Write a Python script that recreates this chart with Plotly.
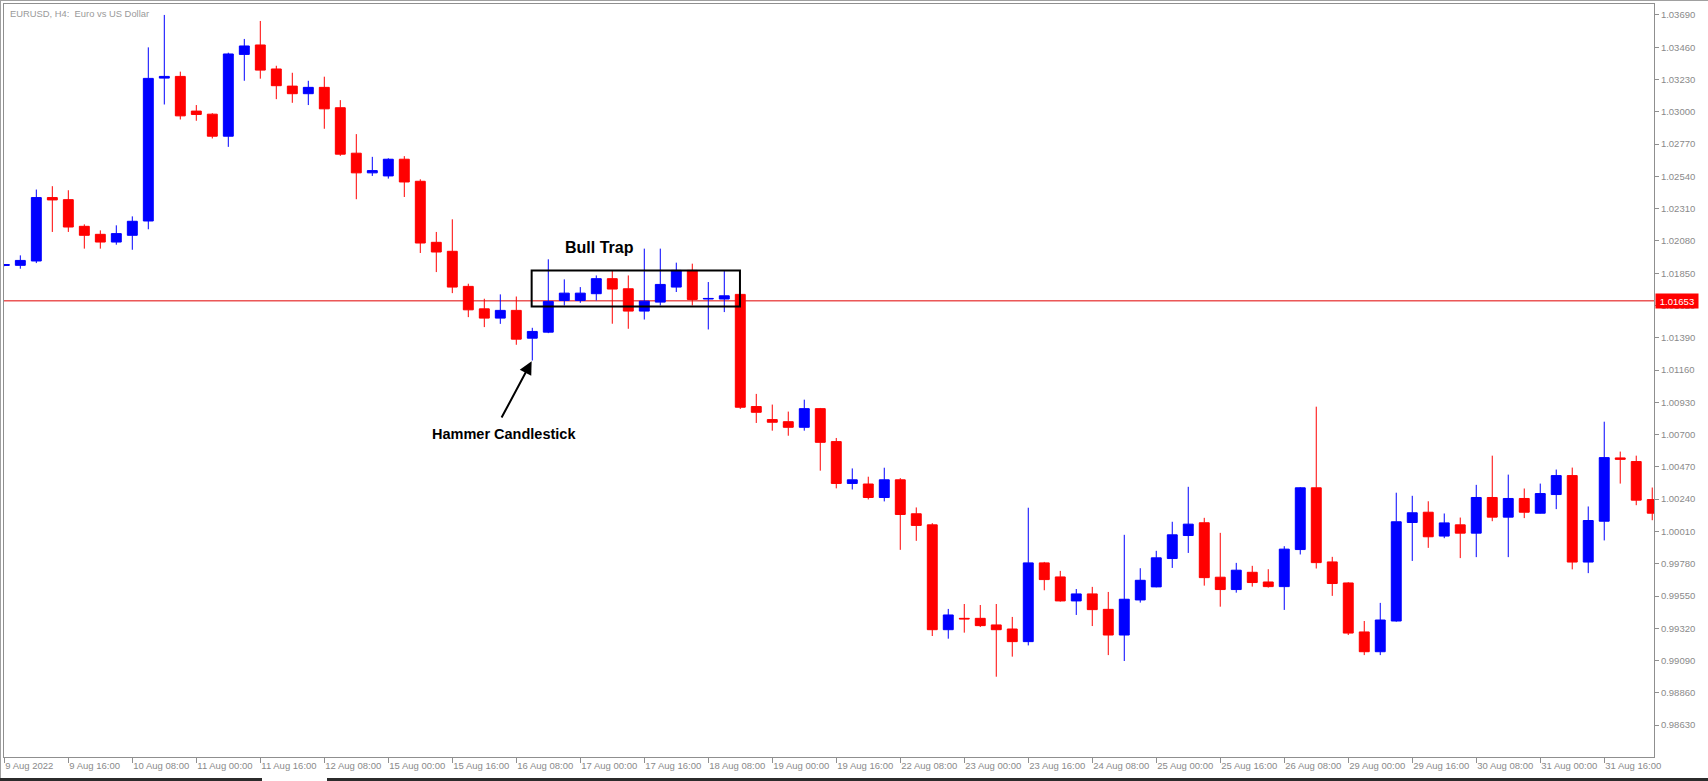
import plotly.graph_objects as go

# ---------------- data (EURUSD H4) ----------------
bar_open = [
    1.01905, 1.01906, 1.01937, 1.02389, 1.02374, 1.02184, 1.02127, 1.02072, 1.02120, 1.02222,
    1.03240, 1.03252, 1.03005, 1.02983, 1.02826, 1.03409, 1.03476, 1.03305, 1.03183, 1.03129,
    1.03174, 1.03029, 1.02705, 1.02565, 1.02543, 1.02662, 1.02505, 1.02070, 1.02006, 1.01756,
    1.01596, 1.01530, 1.01585, 1.01387, 1.01430, 1.01656, 1.01656, 1.01704, 1.01811, 1.01739,
    1.01580, 1.01644, 1.01751, 1.01870, 1.01666, 1.01666, 1.01699, 1.00900, 1.00807, 1.00792,
    1.00752, 1.00885, 1.00650, 1.00352, 1.00348, 1.00252, 1.00378, 1.00136, 1.00057, 0.99310,
    0.99391, 0.99391, 0.99344, 0.99315, 0.99225, 0.99786, 0.99686, 0.99515, 0.99565, 0.99455,
    0.99272, 0.99522, 0.99615, 0.99817, 0.99981, 1.00072, 0.99684, 0.99596, 0.99719, 0.99650,
    0.99617, 0.99881, 1.00321, 0.99793, 0.99643, 0.99294, 0.99153, 0.99372, 1.00074, 1.00147,
    0.99977, 1.00057, 0.99998, 1.00252, 1.00112, 1.00245, 1.00140, 1.00273, 1.00408, 0.99792,
    1.00083, 1.00534, 1.00508, 1.00237,
]
bar_high = [
    1.01915, 1.01977, 1.02446, 1.02470, 1.02441, 1.02198, 1.02155, 1.02191, 1.02255, 1.03459,
    1.03690, 1.03286, 1.03048, 1.02990, 1.03421, 1.03519, 1.03647, 1.03328, 1.03278, 1.03221,
    1.03250, 1.03083, 1.02841, 1.02679, 1.02669, 1.02684, 1.02519, 1.02144, 1.02234, 1.01775,
    1.01668, 1.01699, 1.01684, 1.01461, 1.01949, 1.01806, 1.01751, 1.01834, 1.01870, 1.01834,
    1.02025, 1.02025, 1.01925, 1.01918, 1.01787, 1.01870, 1.01704, 1.00990, 1.00914, 1.00864,
    1.00949, 1.00890, 1.00676, 1.00459, 1.00400, 1.00464, 1.00390, 1.00181, 1.00069, 0.99458,
    0.99493, 0.99486, 0.99493, 0.99401, 1.00179, 0.99793, 0.99729, 0.99600, 0.99615, 0.99579,
    0.99986, 0.99748, 0.99872, 1.00079, 1.00328, 1.00107, 1.00000, 0.99786, 0.99765, 0.99741,
    0.99905, 1.00326, 1.00899, 0.99829, 0.99648, 0.99372, 0.99501, 1.00286, 1.00264, 1.00225,
    1.00138, 1.00109, 1.00342, 1.00550, 1.00415, 1.00316, 1.00351, 1.00451, 1.00465, 1.00188,
    1.00792, 1.00579, 1.00550, 1.00323,
]
bar_low = [
    1.01900, 1.01882, 1.01922, 1.02144, 1.02144, 1.02025, 1.02025, 1.02053, 1.02017, 1.02163,
    1.03052, 1.02945, 1.02936, 1.02810, 1.02750, 1.03221, 1.03236, 1.03090, 1.03064, 1.03048,
    1.02879, 1.02686, 1.02377, 1.02543, 1.02524, 1.02393, 1.01994, 1.01858, 1.01708, 1.01537,
    1.01466, 1.01489, 1.01340, 1.01228, 1.01423, 1.01620, 1.01639, 1.01656, 1.01490, 1.01454,
    1.01520, 1.01620, 1.01716, 1.01620, 1.01449, 1.01573, 1.00883, 1.00783, 1.00728, 1.00692,
    1.00728, 1.00443, 1.00317, 1.00309, 1.00238, 1.00224, 0.99879, 0.99943, 0.99265, 0.99246,
    0.99289, 0.99329, 0.98975, 0.99118, 0.99198, 0.99591, 0.99510, 0.99415, 0.99336, 0.99129,
    0.99087, 0.99503, 0.99612, 0.99750, 0.99857, 0.99624, 0.99474, 0.99574, 0.99617, 0.99610,
    0.99451, 0.99846, 0.99746, 0.99551, 0.99272, 0.99129, 0.99129, 0.99367, 0.99800, 0.99893,
    0.99962, 0.99820, 0.99827, 1.00083, 0.99827, 1.00105, 1.00138, 1.00169, 0.99740, 0.99713,
    0.99946, 1.00351, 1.00197, 1.00090,
]
bar_close = [
    1.01912, 1.01941, 1.02389, 1.02372, 1.02179, 1.02120, 1.02072, 1.02132, 1.02220, 1.03238,
    1.03252, 1.02971, 1.02981, 1.02826, 1.03412, 1.03469, 1.03297, 1.03186, 1.03129, 1.03174,
    1.03021, 1.02698, 1.02565, 1.02581, 1.02662, 1.02500, 1.02065, 1.02001, 1.01751, 1.01589,
    1.01530, 1.01585, 1.01380, 1.01435, 1.01649, 1.01708, 1.01708, 1.01811, 1.01737, 1.01580,
    1.01651, 1.01770, 1.01870, 1.01663, 1.01670, 1.01689, 1.00895, 1.00859, 1.00788, 1.00752,
    1.00885, 1.00645, 1.00352, 1.00378, 1.00252, 1.00378, 1.00131, 1.00053, 0.99310, 0.99415,
    0.99387, 0.99339, 0.99310, 0.99225, 0.99786, 0.99667, 0.99515, 0.99565, 0.99453, 0.99272,
    0.99527, 0.99662, 0.99822, 0.99986, 1.00062, 0.99681, 0.99596, 0.99734, 0.99646, 0.99617,
    0.99884, 1.00321, 0.99788, 0.99639, 0.99286, 0.99153, 0.99379, 1.00079, 1.00143, 0.99972,
    1.00071, 0.99998, 1.00252, 1.00112, 1.00245, 1.00147, 1.00280, 1.00408, 0.99792, 1.00088,
    1.00536, 1.00524, 1.00233, 1.00140,
]
# bar number -1 is the partially visible bar at the left edge (9 Aug 00:00)
bar_index = list(range(-1, len(bar_open) - 1))

time_labels = [
    "9 Aug 2022", "9 Aug 16:00", "10 Aug 08:00", "11 Aug 00:00", "11 Aug 16:00",
    "12 Aug 08:00", "15 Aug 00:00", "15 Aug 16:00", "16 Aug 08:00", "17 Aug 00:00",
    "17 Aug 16:00", "18 Aug 08:00", "19 Aug 00:00", "19 Aug 16:00", "22 Aug 08:00",
    "23 Aug 00:00", "23 Aug 16:00", "24 Aug 08:00", "25 Aug 00:00", "25 Aug 16:00",
    "26 Aug 08:00", "29 Aug 00:00", "29 Aug 16:00", "30 Aug 08:00", "31 Aug 00:00",
    "31 Aug 16:00",
]
time_tick_bars = bar_index[::4][:len(time_labels)]

price_labels = [
    "0.98630", "0.98860", "0.99090", "0.99320", "0.99550", "0.99780", "1.00010",
    "1.00240", "1.00470", "1.00700", "1.00930", "1.01160", "1.01390", "1.01620",
    "1.01850", "1.02080", "1.02310", "1.02540", "1.02770", "1.03000", "1.03230",
    "1.03460", "1.03690",
]
price_ticks = [float(s) for s in price_labels]

current_price = 1.01653
symbol_title = "EURUSD, H4:\u00a0 Euro vs US Dollar"

# ---------------- figure ----------------
AX = "#8f8f8f"
TXT = "#8a8a8a"
FONT = "Liberation Sans, Arial, sans-serif"

fig = go.Figure(
    go.Candlestick(
        x=bar_index, open=bar_open, high=bar_high, low=bar_low, close=bar_close,
        increasing=dict(line=dict(color="#0000ff", width=1), fillcolor="#0000ff"),
        decreasing=dict(line=dict(color="#ff0000", width=1), fillcolor="#ff0000"),
        whiskerwidth=0,
        showlegend=False,
    )
)

W, H = 1708, 781
L, R, T, B = 4, 54, 4, 24
pw, ph = W - L - R, H - T - B


def px_x(p):
    return (p - L) / pw


def px_y(p):
    return (H - B - p) / ph


fig.update_layout(
    width=W, height=H,
    margin=dict(l=L, r=R, t=T, b=B, pad=0),
    paper_bgcolor="white", plot_bgcolor="white",
    boxgap=0.38, boxgroupgap=0,
    showlegend=False,
    font=dict(family=FONT, size=9, color=TXT),
    xaxis=dict(
        range=[-1.02, 102.11], rangeslider=dict(visible=False),
        showgrid=False, zeroline=False,
        showline=True, linecolor=AX, linewidth=1, mirror=True,
        ticks="outside", ticklen=5, tickcolor=AX, tickwidth=1,
        tickmode="array", tickvals=time_tick_bars, ticktext=time_labels,
        ticklabelposition="outside right", tickangle=0,
        tickfont=dict(family=FONT, size=9.5, color=TXT),
    ),
    yaxis=dict(
        side="right", range=[0.98403, 1.03768],
        showgrid=False, zeroline=False,
        showline=True, linecolor=AX, linewidth=1, mirror=True,
        ticks="outside", ticklen=4, tickcolor=AX, tickwidth=1,
        tickmode="array", tickvals=price_ticks, ticktext=price_labels,
        tickfont=dict(family=FONT, size=9.5, color=TXT),
    ),
)

shapes = [
    # current price line
    dict(type="line", xref="paper", x0=0, x1=1, yref="y", y0=current_price, y1=current_price,
         line=dict(color="#e00000", width=1), layer="below"),
    # bull trap box
    dict(type="rect", xref="x", x0=31.96, x1=44.98, yref="y", y0=1.01613, y1=1.01870,
         line=dict(color="black", width=2), fillcolor="rgba(0,0,0,0)", layer="above"),
    # window chrome: outer border
    dict(type="line", xref="paper", yref="paper", x0=px_x(0.5), x1=px_x(0.5),
         y0=px_y(0), y1=px_y(778), line=dict(color="#a0a0a0", width=1)),
    dict(type="line", xref="paper", yref="paper", x0=px_x(0), x1=px_x(W),
         y0=px_y(0.5), y1=px_y(0.5), line=dict(color="#a0a0a0", width=1)),
    # bottom tab bar line
    dict(type="rect", xref="paper", yref="paper", x0=px_x(0), x1=px_x(262),
         y0=px_y(778), y1=px_y(781), line=dict(width=0), fillcolor="#2b2b2b"),
    dict(type="rect", xref="paper", yref="paper", x0=px_x(327), x1=px_x(W),
         y0=px_y(778), y1=px_y(781), line=dict(width=0), fillcolor="#2b2b2b"),
]
fig.update_layout(shapes=shapes)

annotations = [
    dict(text=symbol_title, xref="paper", yref="paper", x=0, y=1, xanchor="left", yanchor="top",
         xshift=4, yshift=-2, showarrow=False, font=dict(family=FONT, size=9.4, color="#9a9a9a")),
    dict(text="1.01653", xref="paper", x=1, xanchor="left", xshift=1, yref="y", y=current_price,
         yanchor="middle", showarrow=False, bgcolor="#ff0000", width=40, height=12,
         font=dict(family=FONT, size=9.5, color="white")),
    dict(text="<b>Bull Trap</b>", xref="x", x=36.2, yref="y", y=1.02030, showarrow=False,
         font=dict(family=FONT, size=16, color="black")),
    dict(text="<b>Hammer Candlestick</b>", xref="x", x=30.25, yref="y", y=1.00701,
         showarrow=False, font=dict(family=FONT, size=14.5, color="black")),
    dict(text="", xref="x", yref="y", x=31.96, y=1.01222, axref="x", ayref="y",
         ax=30.03, ay=1.00811, showarrow=True, arrowhead=2, arrowsize=1.3, arrowwidth=2,
         arrowcolor="black", standoff=0, startstandoff=0),
]
fig.update_layout(annotations=annotations)

fig.write_html(
    "out.html",
    config={"displayModeBar": False},
    post_script="document.body.style.margin='0';document.body.style.overflow='hidden';",
)
